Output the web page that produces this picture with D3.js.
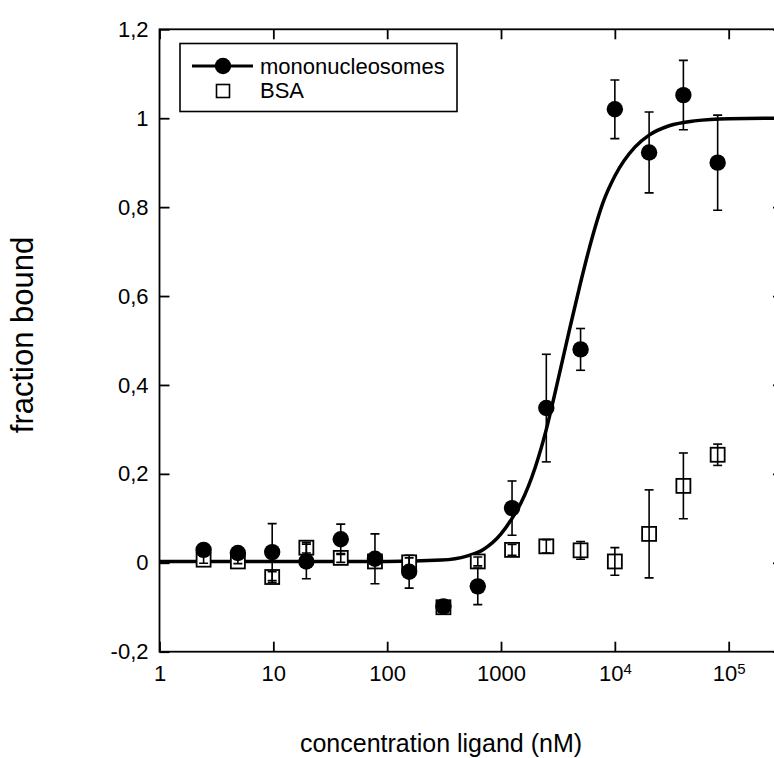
<!DOCTYPE html>
<html>
<head>
<meta charset="utf-8">
<script src="https://cdn.jsdelivr.net/npm/d3@7"></script>
<style>
  html, body { margin: 0; padding: 0; background: #fff; }
  svg { display: block; }
  text { font-family: "Liberation Sans", Arial, sans-serif; fill: #000; }
</style>
</head>
<body>
<svg id="chart" width="774" height="758"></svg>
<script>
// ---- data ----
const concentrations = [2.44, 4.88, 9.77, 19.5, 39.1, 78.1, 156, 312, 625, 1250, 2500, 5000, 10000, 20000, 40000, 80000];
const mononucleosomes = [0.029, 0.022, 0.024, 0.003, 0.053, 0.009, -0.02, -0.098, -0.053, 0.123, 0.348, 0.48, 1.02, 0.923, 1.052, 0.90];
const mononucleosomesErr = [0.01, 0.01, 0.064, 0.039, 0.034, 0.056, 0.037, 0.01, 0.041, 0.061, 0.121, 0.047, 0.066, 0.091, 0.078, 0.107];
const bsa = [0.007, 0.003, -0.032, 0.034, 0.011, 0.003, 0.001, -0.1, 0.003, 0.029, 0.037, 0.028, 0.003, 0.065, 0.173, 0.243];
const bsaErr = [0.008, 0.005, 0.012, 0.012, 0.01, 0.005, 0.01, 0.008, 0.01, 0.012, 0.015, 0.02, 0.031, 0.099, 0.074, 0.024];
// fitted curve, points
const fitX = [1, 100, 300, 500, 700, 1000, 1250, 1500, 2000, 2500, 3000, 4000, 5000, 6000, 8000, 10000, 15000, 20000, 30000, 50000, 100000, 300000];
const fitY = [0.003, 0.003, 0.006, 0.015, 0.03, 0.065, 0.1, 0.135, 0.215, 0.30, 0.385, 0.525, 0.63, 0.71, 0.815, 0.87, 0.935, 0.962, 0.983, 0.994, 0.999, 1.0];
const xTicks = [1, 10, 100, 1000, 10000, 100000];
const yTicks = [-0.2, 0, 0.2, 0.4, 0.6, 0.8, 1, 1.2];
const seriesNames = ["mononucleosomes", "BSA"];
const xTitle = "concentration ligand (nM)";
const yTitle = "fraction bound";

// ---- layout ----
const svg = d3.select("#chart");
const L = 159.5, R = 783, T = 29.3, B = 651.7;
const x = d3.scaleLog().domain([1, 3e5]).range([L, R]);
const y = d3.scaleLinear().domain([-0.2, 1.2]).range([B, T]);
const fmtY = d => String(+d.toFixed(1)).replace(".", ",");

// frame
svg.append("rect").attr("x", L).attr("y", T).attr("width", R - L).attr("height", B - T)
  .attr("fill", "none").attr("stroke", "#000").attr("stroke-width", 1.8);

function styleAxis(g) {
  g.select(".domain").remove();
  g.selectAll(".tick line").attr("stroke", "#000").attr("stroke-width", 1.8);
  g.selectAll(".tick text").attr("fill", "#000").style("font-size", "22px")
    .style("font-family", '"Liberation Sans", Arial, sans-serif');
}

// bottom axis
const gx = svg.append("g").attr("transform", `translate(0,${B})`)
  .call(d3.axisBottom(x).tickValues(xTicks).tickSizeInner(-10).tickSizeOuter(0).tickPadding(14)
    .tickFormat(d => d >= 10000 ? "" : String(d)));
styleAxis(gx);
gx.selectAll(".tick text").each(function(d) {
  if (d >= 10000) {
    const t = d3.select(this).attr("text-anchor", "middle");
    t.append("tspan").text("10");
    t.append("tspan").attr("dy", "-0.5em").style("font-size", "15px").text(String(Math.round(Math.log10(d))));
  }
});
// top axis (ticks only)
const gt = svg.append("g").attr("transform", `translate(0,${T})`)
  .call(d3.axisTop(x).tickValues(xTicks).tickSizeInner(-10).tickSizeOuter(0).tickFormat(""));
styleAxis(gt);
// left axis
const gy = svg.append("g").attr("transform", `translate(${L},0)`)
  .call(d3.axisLeft(y).tickValues(yTicks).tickSizeInner(-10).tickSizeOuter(0).tickPadding(11).tickFormat(fmtY));
styleAxis(gy);
// right axis (ticks only)
const gr = svg.append("g").attr("transform", `translate(${R},0)`)
  .call(d3.axisRight(y).tickValues(yTicks).tickSizeInner(-10).tickSizeOuter(0).tickFormat(""));
styleAxis(gr);

// titles
svg.append("text").attr("x", 441).attr("y", 752).attr("text-anchor", "middle")
  .style("font-size", "25px").text(xTitle);
svg.append("text").attr("transform", "translate(33,335) rotate(-90)").attr("text-anchor", "middle")
  .style("font-size", "31px").text(yTitle);

// clip to plot
svg.append("clipPath").attr("id", "clip").append("rect")
  .attr("x", L).attr("y", T).attr("width", R - L).attr("height", B - T);
const plot = svg.append("g").attr("clip-path", "url(#clip)");

// fitted curve
const fit = fitX.map((v, i) => [v, fitY[i]]);
plot.append("path").datum(fit)
  .attr("d", d3.line().x(d => x(d[0])).y(d => y(d[1])).curve(d3.curveMonotoneX))
  .attr("fill", "none").attr("stroke", "#000").attr("stroke-width", 3.5);

const capW = 4.5;
function errorBars(g, vals, errs) {
  const data = concentrations.map((c, i) => ({ c, v: vals[i], e: errs[i] }));
  const eg = g.append("g").attr("stroke", "#000").attr("stroke-width", 1.6);
  eg.selectAll(".v").data(data).join("line")
    .attr("x1", d => x(d.c)).attr("x2", d => x(d.c))
    .attr("y1", d => y(d.v - d.e)).attr("y2", d => y(d.v + d.e));
  eg.selectAll(".t").data(data).join("line")
    .attr("x1", d => x(d.c) - capW).attr("x2", d => x(d.c) + capW)
    .attr("y1", d => y(d.v + d.e)).attr("y2", d => y(d.v + d.e));
  eg.selectAll(".b").data(data).join("line")
    .attr("x1", d => x(d.c) - capW).attr("x2", d => x(d.c) + capW)
    .attr("y1", d => y(d.v - d.e)).attr("y2", d => y(d.v - d.e));
  return data;
}

// BSA squares
const bsaData = concentrations.map((c, i) => ({ c, v: bsa[i] }));
plot.append("g").selectAll("rect").data(bsaData).join("rect")
  .attr("x", d => x(d.c) - 7).attr("y", d => y(d.v) - 7).attr("width", 14).attr("height", 14)
  .attr("fill", "#fff").attr("stroke", "#000").attr("stroke-width", 1.8);
errorBars(plot, bsa, bsaErr);

// mononucleosome circles
errorBars(plot, mononucleosomes, mononucleosomesErr);
const nucData = concentrations.map((c, i) => ({ c, v: mononucleosomes[i] }));
plot.append("g").selectAll("circle").data(nucData).join("circle")
  .attr("cx", d => x(d.c)).attr("cy", d => y(d.v)).attr("r", 8.2).attr("fill", "#000");

// legend
const lg = svg.append("g");
lg.append("rect").attr("x", 180).attr("y", 43.5).attr("width", 277).attr("height", 68)
  .attr("fill", "#fff").attr("stroke", "#000").attr("stroke-width", 1.6);
lg.append("line").attr("x1", 192).attr("x2", 253).attr("y1", 66).attr("y2", 66)
  .attr("stroke", "#000").attr("stroke-width", 3.2);
lg.append("circle").attr("cx", 223).attr("cy", 66).attr("r", 8.2).attr("fill", "#000");
lg.append("rect").attr("x", 216.5).attr("y", 84.5).attr("width", 13).attr("height", 13)
  .attr("fill", "#fff").attr("stroke", "#000").attr("stroke-width", 1.6);
lg.append("text").attr("x", 260).attr("y", 74).style("font-size", "22px").text(seriesNames[0]);
lg.append("text").attr("x", 260).attr("y", 98).style("font-size", "22px").text(seriesNames[1]);
</script>
</body>
</html>
